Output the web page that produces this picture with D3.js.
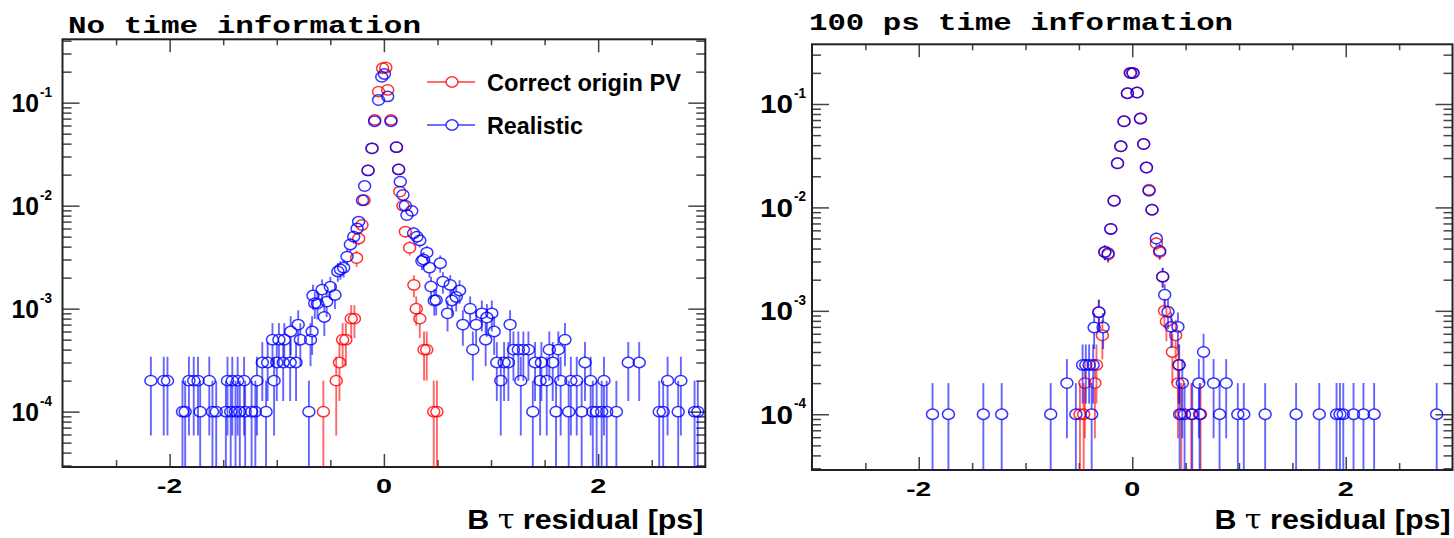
<!DOCTYPE html>
<html lang="en">
<head>
    <meta charset="UTF-8">
    <title>B tau residual</title>
    <script src="https://d3js.org/d3.v7.min.js"></script>
    <style>
        body { margin: 0; background: #fff; }
        .tick line { stroke: #444; stroke-width: 1.5; }
        .axis-num { font-family: "Liberation Sans", Arial, Helvetica, sans-serif; font-weight: bold; fill: #000; }
        .panel-title { font-family: "Liberation Mono", "Courier New", monospace; font-weight: bold; fill: #000; }
    </style>
</head>
<body>
    <div id="chart"></div>

    <script>
        // histogram contents, [bin centre in ps, normalised entries]
        const noTimeCorrect = [[-0.565,1e-4],[-0.445,2e-4],[-0.415,3e-4],[-0.385,5e-4],[-0.355,5e-4],[-0.305,8e-4],[-0.275,8e-4],
            [-0.255,3.1e-3],[-0.235,4.8e-3],[-0.205,6.5e-3],[-0.185,1.13e-2],[-0.148,2.2e-2],[-0.111,3.6e-2],[-0.085,6.8e-2],
            [-0.05,0.128],[-0.012,0.216],[0.018,0.22],[0.035,0.133],[0.066,0.068],[0.117,0.037],[0.138,0.0225],[0.148,0.0137],
            [0.178,0.01],[0.2,0.0056],[0.24,0.0039],[0.28,0.0017],[0.302,1e-3],[0.335,8e-4],[0.375,4e-4],[0.4,4e-4],[0.465,1e-4],[0.495,1e-4]];

        const noTimeRealistic = [[-2.175,2e-4],[-2.055,2e-4],[-2.02,2e-4],[-1.88,1e-4],[-1.855,1e-4],[-1.82,2e-4],[-1.775,2e-4],
            [-1.735,2e-4],[-1.715,1e-4],[-1.63,2e-4],[-1.6,1e-4],[-1.565,1e-4],[-1.475,1e-4],[-1.46,2e-4],[-1.43,1e-4],[-1.415,2e-4],
            [-1.385,1e-4],[-1.365,2e-4],[-1.345,1e-4],[-1.305,2e-4],[-1.295,1e-4],[-1.235,1e-4],[-1.2,1e-4],[-1.185,2e-4],[-1.135,3e-4],
            [-1.1,1e-4],[-1.085,3e-4],[-1.04,5e-4],[-1.025,2e-4],[-1.0,3e-4],[-0.98,5e-4],[-0.94,3e-4],[-0.93,5e-4],[-0.875,3e-4],
            [-0.87,6e-4],[-0.82,3e-4],[-0.8,7e-4],[-0.78,5e-4],[-0.7,1e-4],[-0.685,5e-4],[-0.67,6e-4],[-0.662,1.34e-3],[-0.645,1.13e-3],
            [-0.62,1.12e-3],[-0.577,1.53e-3],[-0.556,8.3e-4],[-0.534,1.17e-3],[-0.5,1.63e-3],[-0.457,1.36e-3],[-0.43,2.3e-3],
            [-0.406,2.4e-3],[-0.376,2.5e-3],[-0.344,3.2e-3],[-0.313,4.2e-3],[-0.282,5.0e-3],[-0.25,6.0e-3],[-0.236,7.0e-3],
            [-0.2,1.13e-2],[-0.18,1.55e-2],[-0.148,2.2e-2],[-0.111,3.6e-2],[-0.087,6.6e-2],[-0.05,0.106],[-0.02,0.178],[0.005,0.19],
            [0.035,0.115],[0.066,0.066],[0.117,0.037],[0.137,0.0225],[0.153,0.0171],[0.178,0.0127],[0.2,0.01],[0.215,0.0081],
            [0.26,0.0089],[0.277,0.0054],[0.308,0.005],[0.335,0.0046],[0.355,0.0029],[0.37,0.003],[0.401,0.0035],[0.425,0.0025],
            [0.44,0.00164],[0.47,0.0012],[0.488,0.00121],[0.526,0.00276],[0.551,0.00183],[0.594,9e-4],[0.619,1.7e-3],[0.635,1.2e-3],
            [0.675,1.3e-3],[0.706,1.5e-3],[0.737,7e-4],[0.805,1e-3],[0.83,4e-4],[0.861,7e-4],[0.914,9e-4],[0.95,5e-4],[0.961,8.2e-4],
            [1.007,9e-4],[1.029,6e-4],[1.054,3e-4],[1.091,2e-4],[1.122,3e-4],[1.162,3e-4],[1.178,7e-4],[1.209,4e-4],[1.255,4e-4],
            [1.278,2e-4],[1.302,4e-4],[1.349,4e-4],[1.39,1e-4],[1.411,3e-4],[1.458,2e-4],[1.47,3e-4],[1.52,2e-4],[1.544,4e-4],
            [1.576,3e-4],[1.607,1e-4],[1.628,4e-4],[1.65,2e-4],[1.69,5e-4],[1.725,1e-4],[1.745,2e-4],[1.8,2e-4],[1.846,1e-4],
            [1.877,3e-4],[1.93,2e-4],[1.95,1e-4],[1.986,1e-4],[2.033,1e-4],[2.054,2e-4],[2.08,1e-4],[2.17,1e-4],[2.281,3e-4],
            [2.383,3e-4],[2.57,1e-4],[2.607,1e-4],[2.648,2e-4],[2.747,1e-4],[2.772,2e-4],[2.9,1e-4],[2.93,1e-4]];

        const timeCorrect = [[-0.49,1e-4],[-0.455,1e-4],[-0.444,2e-4],[-0.35,2e-4],[-0.335,3e-4],[-0.313,9.7e-4],[-0.28,5.8e-4],
            [-0.257,3.7e-3],[-0.226,3.5e-3],[-0.201,6.2e-3],[-0.17,1.16e-2],[-0.138,2.67e-2],[-0.107,3.9e-2],[-0.077,6.8e-2],
            [-0.045,0.127],[-0.02,0.2],[0.005,0.2],[0.045,0.129],[0.077,0.073],[0.107,0.041],[0.133,0.0243],[0.157,0.0148],
            [0.185,0.0095],[0.226,0.0045],[0.257,0.0037],[0.285,0.00214],[0.302,1e-3],[0.32,7.9e-4],[0.376,4e-4],[0.407,5.8e-4],
            [0.428,2e-4],[0.434,3e-4],[0.46,1e-4],[0.553,1e-4],[0.64,1e-4]];

        const timeRealistic = [[-1.871,1e-4],[-1.722,1e-4],[-1.395,1e-4],[-1.223,1e-4],[-0.764,1e-4],[-0.612,2e-4],[-0.528,1e-4],
            [-0.465,3e-4],[-0.435,3e-4],[-0.404,3e-4],[-0.38,1e-4],[-0.366,3e-4],[-0.357,6.9e-4],[-0.313,9.7e-4],[-0.273,6.9e-4],
            [-0.257,3.7e-3],[-0.226,3.6e-3],[-0.201,6.2e-3],[-0.17,1.16e-2],[-0.138,2.67e-2],[-0.107,3.9e-2],[-0.077,6.8e-2],
            [-0.045,0.127],[-0.015,0.199],[0.008,0.199],[0.045,0.129],[0.077,0.072],[0.107,0.041],[0.133,0.0243],[0.157,0.0145],
            [0.185,0.0095],[0.226,0.005],[0.257,0.0038],[0.285,0.00214],[0.304,0.00143],[0.335,9.8e-4],[0.366,7e-4],[0.428,7e-4],
            [0.44,3e-4],[0.444,1e-4],[0.469,2e-4],[0.49,1e-4],[0.562,1e-4],[0.624,2e-4],[0.631,1e-4],[0.668,4e-4],[0.762,2e-4],
            [0.818,1e-4],[0.88,2e-4],[0.989,1e-4],[1.045,1e-4],[1.245,1e-4],[1.535,1e-4],[1.752,1e-4],[1.914,1e-4],[1.946,1e-4],
            [1.977,1e-4],[2.073,1e-4],[2.166,1e-4],[2.266,1e-4],[2.852,1e-4]];

        const entryWeight = 1e-4;            // one event in the normalised histogram
        const xTicks = [-2, 0, 2];
        const xTickLabels = ["-2", "0", "2"];
        const yDecades = [-1, -2, -3, -4];
        const legendLabels = ["Correct origin PV", "Realistic"];
        const colors = { correct: "#ff0000", realistic: "#0000ff" };

        const panels = [
            { title: "No time information", correct: noTimeCorrect, realistic: noTimeRealistic,
              left: 62.5, right: 705.3, top: 39.3, bottom: 467, yMin: 2.90e-5, yMax: 0.4124,
              titleX: 68, titleY: 33, titleLen: 353, labelEnd: 39, labelLen: 27.5, supLen: 12, legend: true },
            { title: "100 ps time information", correct: timeCorrect, realistic: timeRealistic,
              left: 812, right: 1452.5, top: 44.3, bottom: 470, yMin: 2.89e-5, yMax: 0.3778,
              titleX: 809, titleY: 30, titleLen: 424, labelEnd: 793, labelLen: 33, supLen: 12, legend: false }
        ];

        const svg = d3.select("#chart").append("svg")
            .attr("width", 1454).attr("height", 538);

        panels.forEach((p, pi) => {
            const x = d3.scaleLinear().domain([-3, 3]).range([p.left, p.right]);
            const y = d3.scaleLog().domain([p.yMin, p.yMax]).range([p.bottom, p.top]);
            const g = svg.append("g");

            // axes ticks on all four sides
            const xMinor = d3.range(-2.5, 3, 0.5).filter(v => !xTicks.includes(v));
            const yAll = y.ticks();
            const yMajor = yAll.filter(v => Number.isInteger(Math.round(Math.log10(v) * 1000) / 1000));
            const yMinor = yAll.filter(v => !yMajor.includes(v));

            const tickAxis = (axis, vals, size, tx, ty) => {
                g.append("g").attr("transform", `translate(${tx},${ty})`)
                    .call(axis.tickValues(vals).tickSize(size).tickFormat(""))
                    .call(a => a.select(".domain").remove());
            };
            tickAxis(d3.axisTop(x), xTicks, 13, 0, p.bottom);
            tickAxis(d3.axisTop(x), xMinor, 7, 0, p.bottom);
            tickAxis(d3.axisBottom(x), xTicks, 13, 0, p.top);
            tickAxis(d3.axisBottom(x), xMinor, 6, 0, p.top);
            tickAxis(d3.axisRight(y), yMajor, 17, p.left, 0);
            tickAxis(d3.axisRight(y), yMinor, 9, p.left, 0);
            tickAxis(d3.axisLeft(y), yMajor, 17, p.right, 0);
            tickAxis(d3.axisLeft(y), yMinor, 9, p.right, 0);

            // frame
            g.append("rect")
                .attr("x", p.left).attr("y", p.top)
                .attr("width", p.right - p.left).attr("height", p.bottom - p.top)
                .attr("fill", "none").attr("stroke", "#222").attr("stroke-width", 2);

            // x tick labels
            xTicks.forEach((v, i) => {
                g.append("text").attr("class", "axis-num")
                    .attr("x", x(v)).attr("y", p.bottom + 25.5)
                    .attr("text-anchor", "middle").attr("font-size", 20)
                    .attr("textLength", xTickLabels[i].length > 1 ? 25 : 16)
                    .attr("lengthAdjust", "spacingAndGlyphs")
                    .text(xTickLabels[i]);
            });

            // y tick labels 10^n
            yDecades.forEach(e => {
                const ty = y(Math.pow(10, e));
                g.append("text").attr("class", "axis-num")
                    .attr("x", p.labelEnd).attr("y", ty + 9.5)
                    .attr("text-anchor", "end").attr("font-size", 25)
                    .attr("textLength", p.labelLen).attr("lengthAdjust", "spacingAndGlyphs")
                    .text("10");
                g.append("text").attr("class", "axis-num")
                    .attr("x", p.labelEnd + 1).attr("y", ty - 6)
                    .attr("font-size", 15)
                    .attr("textLength", p.supLen).attr("lengthAdjust", "spacingAndGlyphs")
                    .text(String(e));
            });

            // axis title
            const xt = g.append("text").attr("class", "axis-num")
                .attr("x", p.right - 2).attr("y", 529)
                .attr("text-anchor", "end").attr("font-size", 28)
                .attr("textLength", 236).attr("lengthAdjust", "spacingAndGlyphs");
            xt.append("tspan").text("B ");
            xt.append("tspan").attr("font-family", "'DejaVu Serif', 'Liberation Serif', serif")
                .attr("font-weight", "normal").text("τ");
            xt.append("tspan").text(" residual [ps]");

            // panel title
            g.append("text").attr("class", "panel-title")
                .attr("x", p.titleX).attr("y", p.titleY).attr("font-size", 23)
                .attr("textLength", p.titleLen).attr("lengthAdjust", "spacingAndGlyphs")
                .text(p.title);

            // data with error bars, clipped to the frame
            const clipId = "clip" + pi;
            svg.append("clipPath").attr("id", clipId).append("rect")
                .attr("x", p.left).attr("y", p.top)
                .attr("width", p.right - p.left).attr("height", p.bottom - p.top);
            const plot = g.append("g").attr("clip-path", `url(#${clipId})`);
            const rx = 6, ry = 5.2;

            [["correct", p.correct], ["realistic", p.realistic]].forEach(([key, data]) => {
                const col = colors[key];
                const s = plot.append("g");
                data.forEach(([xv, yv]) => {
                    const err = Math.sqrt(yv * entryWeight);
                    const cx = x(xv), cy = y(yv);
                    const yTop = y(Math.min(yv + err, p.yMax));
                    const yBot = yv - err > p.yMin ? y(yv - err) : p.bottom;
                    if (yTop < cy - ry) {
                        s.append("line").attr("x1", cx).attr("x2", cx).attr("y1", yTop).attr("y2", cy - ry)
                            .attr("stroke", col).attr("stroke-opacity", 0.6).attr("stroke-width", 1.9);
                    }
                    if (yBot > cy + ry) {
                        s.append("line").attr("x1", cx).attr("x2", cx).attr("y1", cy + ry).attr("y2", yBot)
                            .attr("stroke", col).attr("stroke-opacity", 0.6).attr("stroke-width", 1.9);
                    }
                });
                s.selectAll("ellipse").data(data).join("ellipse")
                    .attr("cx", d => x(d[0])).attr("cy", d => y(d[1]))
                    .attr("rx", rx).attr("ry", ry)
                    .attr("fill", "none").attr("stroke", col)
                    .attr("stroke-opacity", 0.8).attr("stroke-width", 1.5);
            });

            // legend
            if (p.legend) {
                legendLabels.forEach((lab, i) => {
                    const col = i === 0 ? colors.correct : colors.realistic;
                    const ly = i === 0 ? 82 : 125;
                    const lx0 = 427, lx1 = 475, lc = 452;
                    g.append("line").attr("x1", lx0).attr("x2", lc - rx).attr("y1", ly).attr("y2", ly)
                        .attr("stroke", col).attr("stroke-opacity", 0.6).attr("stroke-width", 1.9);
                    g.append("line").attr("x1", lc + rx).attr("x2", lx1).attr("y1", ly).attr("y2", ly)
                        .attr("stroke", col).attr("stroke-opacity", 0.6).attr("stroke-width", 1.9);
                    g.append("ellipse").attr("cx", lc).attr("cy", ly).attr("rx", rx).attr("ry", ry)
                        .attr("fill", "none").attr("stroke", col).attr("stroke-opacity", 0.8).attr("stroke-width", 1.5);
                    g.append("text").attr("class", "axis-num")
                        .attr("x", 487).attr("y", ly + 8.5).attr("font-size", 23)
                        .attr("textLength", i === 0 ? 194 : 96).attr("lengthAdjust", "spacingAndGlyphs")
                        .text(lab);
                });
            }
        });
    </script>
</body>
</html>
